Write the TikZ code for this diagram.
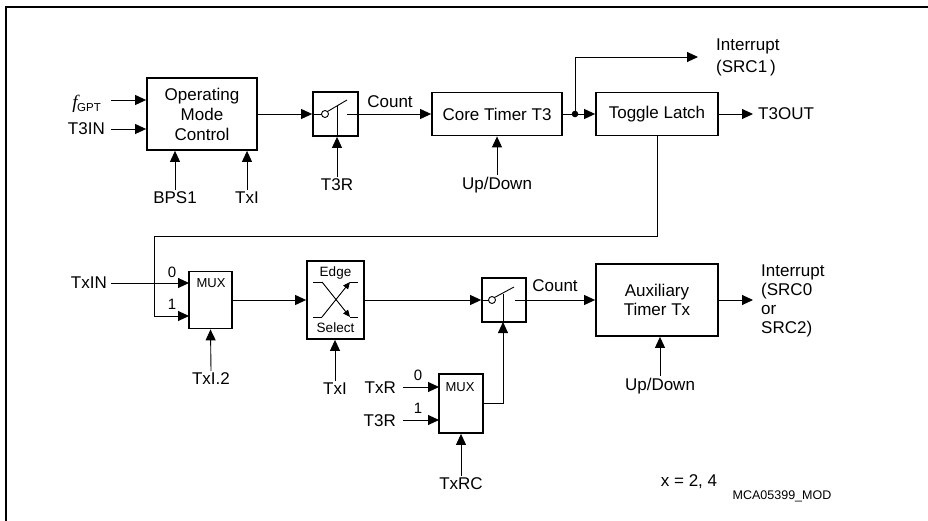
\documentclass[tikz,border=0pt]{standalone}
\usepackage{fontspec}
\setmainfont{Liberation Sans}
\newfontfamily\serifit{Liberation Serif}
\usetikzlibrary{arrows.meta}
\begin{document}
\begin{tikzpicture}[x=1pt,y=-1pt,
  font=\fontsize{17}{20}\selectfont,
  blk/.style={draw, line width=1.8pt, align=center, inner sep=0pt},
  conn/.style={line width=0.9pt},
  arr/.style={conn, -{Triangle[length=11pt,width=10pt]}},
  sarr/.style={conn, -{Triangle[length=7pt,width=6pt]}},
  lbl/.style={inner sep=2pt},
  muxfont/.style={inner sep=0pt, font=\fontsize{13}{15}\selectfont},
  selfont/.style={inner sep=0pt, font=\fontsize{13.5}{15}\selectfont},
  digit/.style={inner sep=0pt, font=\fontsize{15}{17}\selectfont},
]
\useasboundingbox (0,0) rectangle (928,521);
\draw[line width=1.8pt] (6,521) -- (6,7) -- (928,7);

% ---------- top row ----------
\node[blk, minimum width=110pt, minimum height=72pt] (omc) at (202,114) {Operating\\Mode\\Control};
\node[blk, minimum width=45pt, minimum height=44pt] (sw1) at (335.5,114) {};
\node[blk, minimum width=130pt, minimum height=43pt] (ct3) at (497,114) {Core Timer T3};
\node[blk, minimum width=122pt, minimum height=43pt] (tl) at (657,114) {Toggle Latch};

% inputs to OMC
\coordinate (fin) at (111,100);
\node[anchor=east, inner sep=0pt] (fgpt) at (101,104) {{\serifit\itshape\fontsize{19}{19}\selectfont f}\kern-0.5pt\raisebox{-2.5pt}{\fontsize{11.5}{11.5}\selectfont GPT}};
\draw[arr] (fin) -- (omc.west |- fin);
\node[anchor=east, inner sep=0pt] (t3in) at (105,129) {T3IN};
\coordinate (t3inend) at (111,129);
\draw[arr] (t3inend) -- (omc.west |- t3inend);
\node[lbl] (bps1) at (175,198) {BPS1};
\draw[arr] (bps1.north) -- (bps1.north |- omc.south);
\node[lbl] (txi1) at (247,198) {TxI};
\draw[arr] (txi1.north) -- (txi1.north |- omc.south);

% switch 1
\draw[arr] (omc.east) -- (sw1.west);
\draw[conn] (sw1.west) -- (321.5,114);
\draw[conn] (325,114) circle (3.5pt);
\draw[conn] (327.5,111.5) -- (347,100);
\coordinate (sw1out) at (347,114);
\draw[arr] (sw1out) -- (ct3.west);
\node[lbl] (cnt1) at (390,102) {Count};
\node[lbl] (t3r1) at (337,185) {T3R};
\draw[arr] (t3r1.north) -- (t3r1.north |- sw1.south);
\draw[conn] (t3r1.north |- sw1.south) -- (337,106);

% core timer
\node[lbl] (ud1) at (497,185) {Up/Down};
\draw[arr] (ud1.north) -- (ud1.north |- ct3.south);
\coordinate (split) at (575,114);
\draw[arr] (ct3.east) -- (tl.west);
\fill (split) circle (3.3pt);
\node[anchor=west, align=left, inner sep=0pt, font=\fontsize{17}{22}\selectfont] (irq1) at (716,57) {Interrupt\\(SRC1\,)};
\coordinate (irq1end) at (698,57);
\draw[arr] (split) |- (irq1end);
\node[anchor=west, inner sep=0pt] (t3out) at (758,114) {T3OUT};
\coordinate (t3outend) at (753,114);
\draw[arr] (tl.east) -- (t3outend);

% ---------- bottom row ----------
\node[blk, minimum width=43pt, minimum height=57pt] (mux1) at (210.5,300) {};
\node[muxfont] (mux1t) at (211,283) {MUX};
\coordinate (m1a) at (189,283);
\coordinate (m1b) at (189,316);
\node[anchor=east, inner sep=0pt] (txin) at (107,283) {TxIN};
\coordinate (txinst) at (111,283);
\draw[arr] (txinst) -- (m1a);
\coordinate (fb2) at (154,236);
\draw[arr] (tl.south) |- (fb2) |- (m1b);
\node[digit] (d10) at (172,272) {0};
\node[digit] (d11) at (172,304) {1};
\node[lbl] (txi2) at (211,379) {TxI.2};
\draw[arr] (txi2.north) -- (mux1.south);

% edge select
\node[blk, minimum width=57pt, minimum height=78pt] (es) at (335.5,300) {};
\node[selfont] (est) at (335.5,273) {Edge};
\node[selfont] (ess) at (335.5,328) {Select};
\draw[arr] (mux1.east) -- (es.west);
\draw[conn] (313,282) -- (322,282);
\draw[sarr] (322,282) -- (350,317);
\draw[conn] (350,317) -- (358,317);
\draw[conn] (313,317) -- (322,317);
\draw[sarr] (322,317) -- (350,282);
\draw[conn] (350,282) -- (358,282);
\node[lbl] (txi3) at (335,389) {TxI};
\draw[arr] (txi3.north) -- (txi3.north |- es.south);

% switch 2
\node[blk, minimum width=44pt, minimum height=44pt] (sw2) at (504,300) {};
\draw[arr] (es.east) -- (sw2.west);
\draw[conn] (sw2.west) -- (488.5,300);
\draw[conn] (492,300) circle (3.5pt);
\draw[conn] (494.5,297.5) -- (514,287);
\coordinate (sw2out) at (515,300);
\node[blk, minimum width=122pt, minimum height=72pt, font=\fontsize{17}{18.5}\selectfont] (aux) at (657,300) {Auxiliary\\Timer Tx};
\draw[arr] (sw2out) -- (aux.west);
\node[lbl] (cnt2) at (555,286) {Count};

% mux 2
\node[blk, minimum width=44pt, minimum height=59pt] (mux2) at (461,403.5) {};
\node[muxfont] (mux2t) at (460,387) {MUX};
\coordinate (m2a) at (439,387);
\coordinate (m2b) at (439,420);
\node[anchor=east, inner sep=0pt] (txr) at (396,388) {TxR};
\coordinate (txrst) at (403,387);
\draw[arr] (txrst) -- (m2a);
\node[anchor=east, inner sep=0pt] (t3r2) at (396,421) {T3R};
\coordinate (t3r2st) at (403,420);
\draw[arr] (t3r2st) -- (m2b);
\node[digit] (d20) at (418,375) {0};
\node[digit] (d21) at (418,408) {1};
\node[lbl] (txrc) at (461,484) {TxRC};
\draw[arr] (txrc.north) -- (mux2.south);
\coordinate (sw2act) at (503,322);
\draw[arr] (mux2.east) -| (sw2act);
\draw[conn] (sw2act) -- (503,293.5);

% aux timer
\node[anchor=west, align=left, inner sep=0pt, font=\fontsize{17}{19}\selectfont] (irq2) at (761,301) {Interrupt\\(SRC0\\or\\SRC2)};
\coordinate (irq2end) at (753,300);
\draw[arr] (aux.east) -- (irq2end);
\node[lbl] (ud2) at (660,386) {Up/Down};
\draw[arr] (ud2.north) -- (ud2.north |- aux.south);

% notes
\node[inner sep=0pt] (note) at (689,482) {x = 2,\ 4};
\node[inner sep=0pt, font=\fontsize{12.5}{14}\selectfont] (code) at (782,496) {MCA05399\_MOD};
\end{tikzpicture}
\end{document}
